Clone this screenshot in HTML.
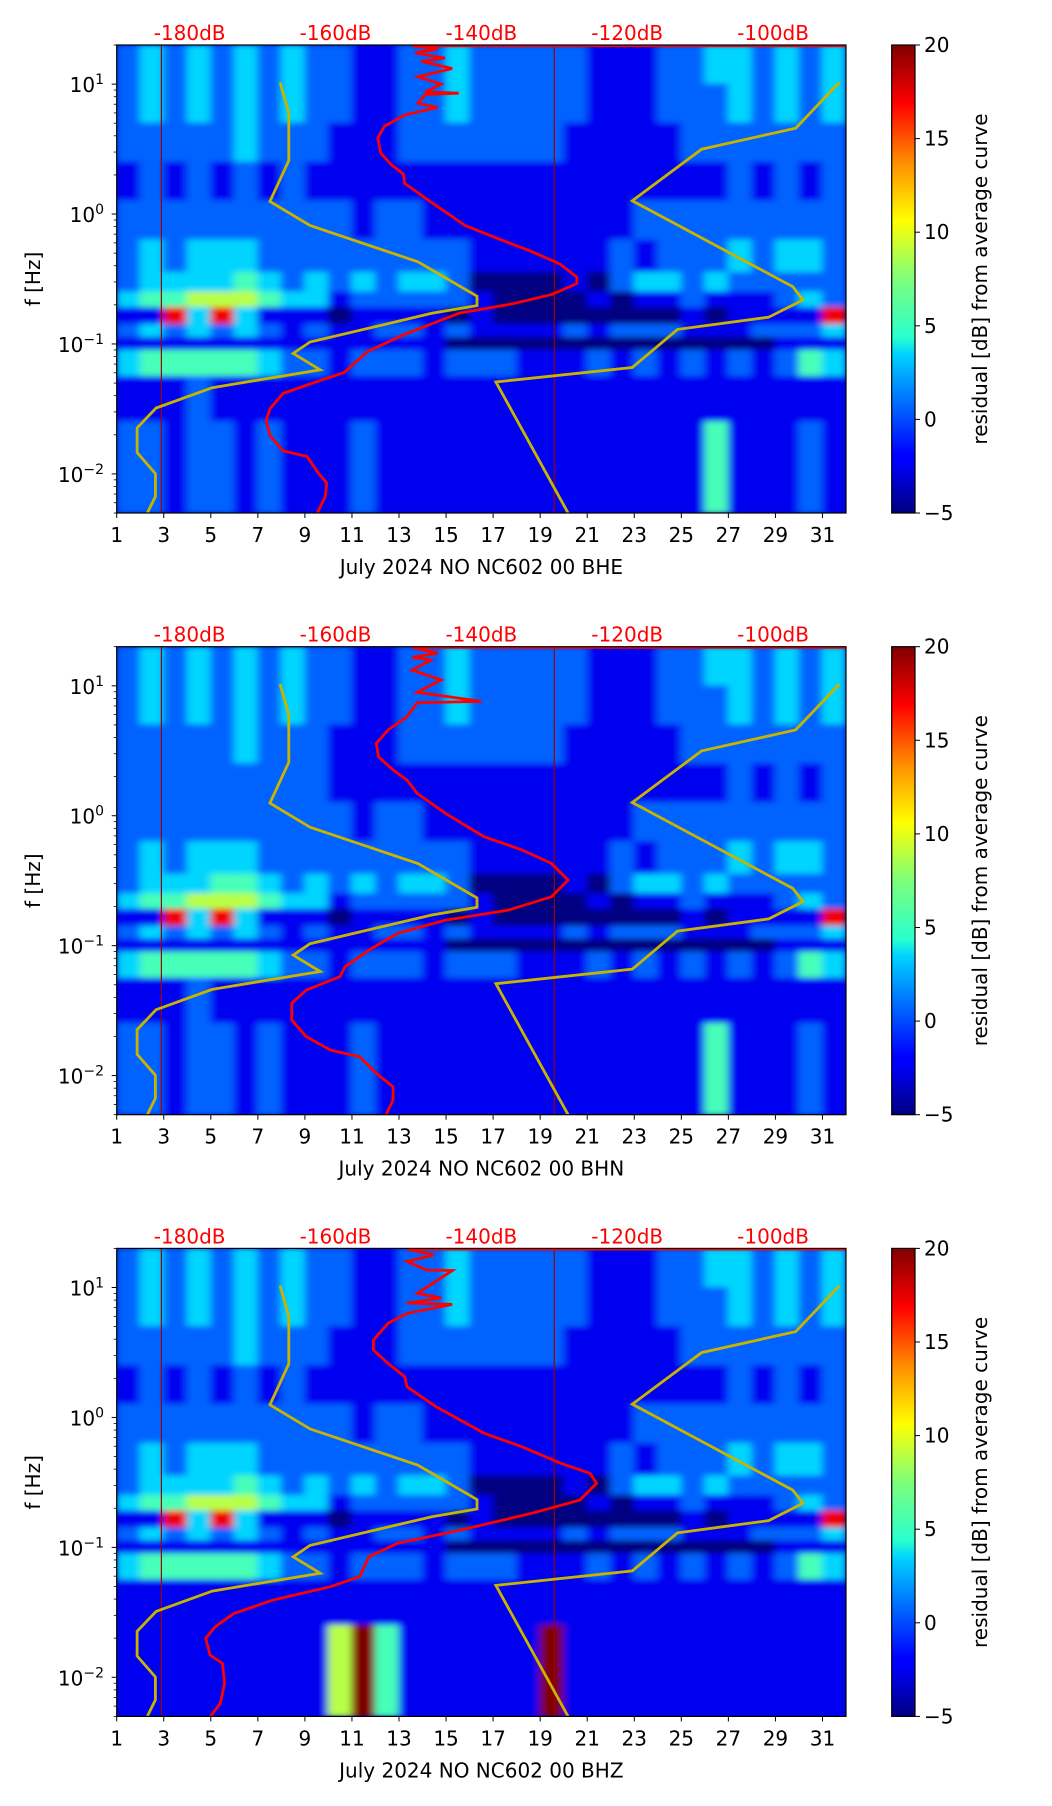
<!DOCTYPE html>
<html><head><meta charset="utf-8">
<style>
html,body{margin:0;padding:0;background:#fff;}
svg{display:block;font-family:"DejaVu Sans","Liberation Sans",sans-serif;}
</style></head>
<body>
<svg id="fig" width="1052" height="1806" viewBox="0 0 1052 1806" xmlns="http://www.w3.org/2000/svg">
<defs>
<linearGradient id="jet" x1="0" y1="1" x2="0" y2="0">
<stop offset="0" stop-color="#000080"/><stop offset="0.11" stop-color="#0000ff"/>
<stop offset="0.125" stop-color="#0000ff"/><stop offset="0.34" stop-color="#00d4ff"/>
<stop offset="0.375" stop-color="#29ffce"/><stop offset="0.5" stop-color="#7dff7a"/>
<stop offset="0.625" stop-color="#ffff00"/><stop offset="0.75" stop-color="#ff8c00"/>
<stop offset="0.875" stop-color="#ff0000"/><stop offset="1" stop-color="#800000"/>
</linearGradient>
<filter id="blur" x="-5%" y="-5%" width="110%" height="110%"><feGaussianBlur stdDeviation="4 3"/></filter>
</defs>
</svg>
<script>
// ---- data ----
const dayTicks = [1,3,5,7,9,11,13,15,17,19,21,23,25,27,29,31];
const dbTicks = [-180,-160,-140,-120,-100];
const decadeTicks = [1,0,-1,-2];
const cbTicks = [20,15,10,5,0,-5];
const stationNames = ["July 2024 NO NC602 00 BHE","July 2024 NO NC602 00 BHN","July 2024 NO NC602 00 BHZ"];
// frequency band edges (log10 Hz) of heatmap rows
const bandEdges = [1.301,1.0,0.7,0.4,0.1,-0.2,-0.45,-0.6,-0.72,-0.85,-0.95,-1.05,-1.25,-1.6,-2.301];
// residual level digits (0..9 -> -5..20 dB), one char per day 1..31
const heatBHE = [
"2323232322112232222211122332323",
"2323232322112232222211122232323",
"2222232221112222222111112222222",
"1212121211111111111111111121212",
"2222222222122111111111222222222",
"2323332222222221111112122232332",
"2333343232323320000102332322222",
"3445554331222221000010112111232",
"1183831110111101000000001011118",
"2323232121122121111212221112223",
"1111111111111100000000000000111",
"3444443221222122211121212121243",
"1112111111111111111111111111111",
"2212212111211111111111111411121"];
const heatBHN = [
"2323232322112232222211122332323",
"2323232322112232222211122232323",
"2222232221112222222111112222222",
"2222222221111111111111111121212",
"2222222222122111111111222222222",
"2323332222222221111112122232332",
"2333443232323320000102332322222",
"3445554331222221000010112111232",
"1183831110111101000000001011118",
"2323232121122121111212221112223",
"1111111111111100000000000000111",
"3444443221222122211121212121243",
"1112111111111111111111111111111",
"2212212111211111111111111411121"];
const heatBHZ = [
"2323232322112232222211122332323",
"2323232322112232222211122232323",
"2222232221112222222111112222222",
"1212121211111111111111111121212",
"2222222222122111111111222222222",
"2323332222222221111112122232332",
"2333343232323320000102332322222",
"3445554331222221000010112111232",
"1183831110111101000000001011118",
"2323232121122121111212221112223",
"1111111111111100000000000000111",
"3444443221222122211121212121243",
"1111111111111111111111111111111",
"1111111115941111119111111111111"];
const redLineDays = [2.9, 19.6];
// low / high noise model curves (dB, log10 Hz)
const lowModelDb = [-167.6,-166.4,-166.4,-169.0,-163.5,-148.7,-140.6,-140.6,-146.8,-163.5,-165.8,-162.1,-176.9,-184.6,-187.2,-187.2,-184.7,-184.7,-185.8];
const lowModelLf = [1.013,0.778,0.411,0.097,-0.088,-0.368,-0.632,-0.705,-0.764,-0.985,-1.073,-1.199,-1.337,-1.493,-1.646,-1.836,-1.998,-2.174,-2.301];
const highModelDb = [-90.9,-96.9,-109.8,-119.3,-97.3,-95.9,-100.6,-113.1,-119.3,-138.0,-128.1];
const highModelLf = [1.013,0.661,0.499,0.102,-0.559,-0.661,-0.794,-0.888,-1.181,-1.293,-2.301];
// average PSD curves per channel
const psdBHEDb = [-90,-149.5,-146.0,-149.1,-145.0,-148.2,-144.0,-148.7,-145.5,-147.7,-143.1,-147.7,-148.7,-146.0,-150.5,-153.3,-154.2,-153.8,-152.4,-150.7,-150.5,-146.8,-142.2,-137.6,-132.9,-129.3,-126.9,-126.9,-130.2,-135.7,-143.1,-150.5,-155.6,-158.8,-163.5,-167.2,-169.0,-169.5,-169.0,-167.2,-163.9,-162.5,-161.2,-161.4,-162.5];
const psdBHELf = [1.296,1.296,1.27,1.24,1.2,1.175,1.12,1.057,1.0,0.94,0.93,0.92,0.852,0.82,0.763,0.675,0.587,0.470,0.382,0.308,0.235,0.088,-0.089,-0.191,-0.294,-0.382,-0.485,-0.535,-0.617,-0.691,-0.764,-0.926,-1.058,-1.220,-1.308,-1.381,-1.499,-1.587,-1.704,-1.822,-1.866,-1.983,-2.071,-2.174,-2.301];
const psdBHNDb = [-90,-149.5,-146.0,-149.5,-146.9,-149.5,-145.5,-148.8,-140.0,-148.8,-150.2,-152.8,-154.4,-154.1,-152.1,-150.2,-148.8,-144.9,-139.6,-134.4,-130.4,-128.1,-130.4,-136.3,-144.9,-151.5,-155.4,-158.7,-159.4,-164.0,-166.0,-166.0,-164.0,-160.7,-156.7,-154.4,-152.1,-152.1,-153.1];
const psdBHNLf = [1.296,1.296,1.25,1.22,1.199,1.12,1.045,0.95,0.88,0.87,0.762,0.660,0.557,0.454,0.352,0.275,0.172,0.018,-0.162,-0.264,-0.367,-0.495,-0.624,-0.726,-0.803,-0.905,-1.034,-1.162,-1.239,-1.342,-1.444,-1.573,-1.701,-1.804,-1.855,-1.983,-2.086,-2.189,-2.304];
const psdBHZDb = [-90,-150.2,-146.5,-150.2,-147.5,-144.0,-148.8,-145.5,-150.2,-144.0,-150.2,-152.8,-154.8,-154.8,-152.8,-150.5,-150.2,-146.2,-142.9,-139.6,-134.4,-129.1,-125.1,-124.2,-126.5,-133.1,-142.9,-151.5,-155.4,-156.7,-160.7,-168.6,-173.9,-176.5,-177.8,-177.2,-175.5,-175.2,-175.8,-177.2];
const psdBHZLf = [1.296,1.296,1.25,1.2,1.135,1.13,0.955,0.92,0.88,0.87,0.801,0.724,0.596,0.519,0.416,0.313,0.236,0.082,-0.020,-0.122,-0.226,-0.353,-0.430,-0.507,-0.636,-0.738,-0.867,-0.969,-1.072,-1.226,-1.303,-1.406,-1.508,-1.611,-1.700,-1.829,-1.893,-2.047,-2.201,-2.304];

// ---- layout ----
const NS = "http://www.w3.org/2000/svg";
const svg = document.getElementById('fig');
const AX_L = 116.7, AX_R = 846, AX_H = 468, LF_TOP = Math.log10(20), LF_BOT = Math.log10(0.005);
const panelTops = [45, 646.7, 1248.4];
const CB_L = 891.7, CB_W = 23.3, FS = 20;
function xDay(d){ return AX_L + (d-1)*(AX_R-AX_L)/31; }
function xDb(db){ return AX_L + (db+190)*(AX_R-AX_L)/100; }
function yLf(top, lf){ return top + (LF_TOP-lf)/(LF_TOP-LF_BOT)*AX_H; }
function jet(v){
  const t = Math.max(0,Math.min(1,(v+5)/25));
  const r = Math.max(0,Math.min(1,Math.min(4*t-1.5,-4*t+4.5)));
  const g = Math.max(0,Math.min(1,Math.min(4*t-0.5,-4*t+3.5)));
  const b = Math.max(0,Math.min(1,Math.min(4*t+0.5,-4*t+2.5)));
  return `rgb(${Math.round(r*255)},${Math.round(g*255)},${Math.round(b*255)})`;
}
function mk(tag, attrs, parent){
  const e = document.createElementNS(NS, tag);
  for (const k in attrs) e.setAttribute(k, attrs[k]);
  (parent||svg).appendChild(e);
  return e;
}
const heats = [heatBHE, heatBHN, heatBHZ];
const psdDb = [psdBHEDb, psdBHNDb, psdBHZDb];
const psdLf = [psdBHELf, psdBHNLf, psdBHZLf];

panelTops.forEach((top, p) => {
  const g = mk('g', {});
  
  
  const cp = mk('clipPath', {id:'clip'+p}, g);
  mk('rect', {x:AX_L, y:top, width:AX_R-AX_L, height:AX_H}, cp);
  const plot = mk('g', {'clip-path':`url(#clip${p})`}, g);
  
  
  mk('rect', {x:AX_L, y:top, width:AX_R-AX_L, height:AX_H, fill:'#0010c0'}, plot);
  const hm = mk('g', {filter:'url(#blur)'}, plot);
  
  
  heats[p].forEach((row, b) => {
    const y0 = yLf(top, bandEdges[b]), y1 = yLf(top, bandEdges[b+1]);
    for (let c = 0; c < row.length; c++){
      const v = -5 + parseInt(row[c]) * 25/9;
      const r = mk('rect', {x:xDay(c+1)-0.5, y:y0-0.5, width:xDay(c+2)-xDay(c+1)+1, height:y1-y0+1, fill:jet(v)}, hm);
      
      
    }
  });
  redLineDays.forEach(d => {
    const l = mk('line', {x1:xDay(d), x2:xDay(d), y1:top, y2:top+AX_H, stroke:'#a00000', 'stroke-width':1.2}, plot);
    
    
  });
  const lp = (dbs, lfs) => dbs.map((d,i)=> xDb(d).toFixed(1)+','+yLf(top,lfs[i]).toFixed(1)).join(' ');
  const lo = mk('polyline', {points:lp(lowModelDb, lowModelLf), fill:'none', stroke:'#c8b400', 'stroke-width':2.8}, plot);
  
  
  const hi = mk('polyline', {points:lp(highModelDb, highModelLf), fill:'none', stroke:'#c8b400', 'stroke-width':2.8}, plot);
  
  
  const rc = mk('polyline', {points:lp(psdDb[p], psdLf[p]), fill:'none', stroke:'#ff0000', 'stroke-width':2.8}, plot);
  
  
  // frame
  const fr = mk('rect', {x:AX_L, y:top, width:AX_R-AX_L, height:AX_H, fill:'none', stroke:'#000', 'stroke-width':1.2}, g);
  
  
  dayTicks.forEach(d => {
    mk('line', {x1:xDay(d), x2:xDay(d), y1:top+AX_H, y2:top+AX_H+5, stroke:'#000', 'stroke-width':1}, g);
    const t = mk('text', {x:xDay(d), y:top+AX_H+29, 'text-anchor':'middle', 'font-size':FS}, g);
    t.textContent = d;
    
    
  });
  dbTicks.forEach(db => {
    const t = mk('text', {x:xDb(db), y:top-5, 'text-anchor':'middle', 'font-size':FS, fill:'#ff0000'}, g);
    t.textContent = db + 'dB';
    
    
  });
  for (let dec = -3; dec <= 1; dec++){
    for (let m = 1; m <= 9; m++){
      const lf = dec + Math.log10(m);
      if (lf < LF_BOT || lf > LF_TOP) continue;
      const y = yLf(top, lf);
      mk('line', {x1:AX_L, x2:AX_L-(m===1?5:3), y1:y, y2:y, stroke:'#000', 'stroke-width':m===1?1:0.8}, g);
    }
  }
  decadeTicks.forEach(dec => {
    const y = yLf(top, dec);
    const t = mk('text', {x:104, y:y+8, 'text-anchor':'end', 'font-size':FS}, g);
    
    
    t.appendChild(document.createTextNode('10'));
    const s = mk('tspan', {dy:-8, 'font-size':14}, t);
    s.textContent = dec < 0 ? '\u2212' + (-dec) : String(dec);
  });
  const yl = mk('text', {x:0, y:0, transform:`translate(40,${top+AX_H/2}) rotate(-90)`, 'text-anchor':'middle', 'font-size':FS}, g);
  yl.textContent = 'f [Hz]';
  
  
  const xl = mk('text', {x:(AX_L+AX_R)/2, y:top+AX_H+61, 'text-anchor':'middle', 'font-size':FS}, g);
  xl.textContent = stationNames[p];
  
  
  const cb = mk('rect', {x:CB_L, y:top, width:CB_W, height:AX_H, fill:'url(#jet)', stroke:'#000', 'stroke-width':1.2}, g);
  
  
  cbTicks.forEach(v => {
    const y = top + (20-v)/25*AX_H;
    mk('line', {x1:CB_L+CB_W, x2:CB_L+CB_W+5, y1:y, y2:y, stroke:'#000', 'stroke-width':1}, g);
    const t = mk('text', {x:CB_L+CB_W+9, y:y+7, 'font-size':FS}, g);
    t.textContent = v < 0 ? '\u2212' + (-v) : String(v);
    
    
  });
  const cl = mk('text', {x:0, y:0, transform:`translate(987,${top+AX_H/2}) rotate(-90)`, 'text-anchor':'middle', 'font-size':FS}, g);
  cl.textContent = 'residual [dB] from average curve';
  
  
});
</script>
</body></html>
